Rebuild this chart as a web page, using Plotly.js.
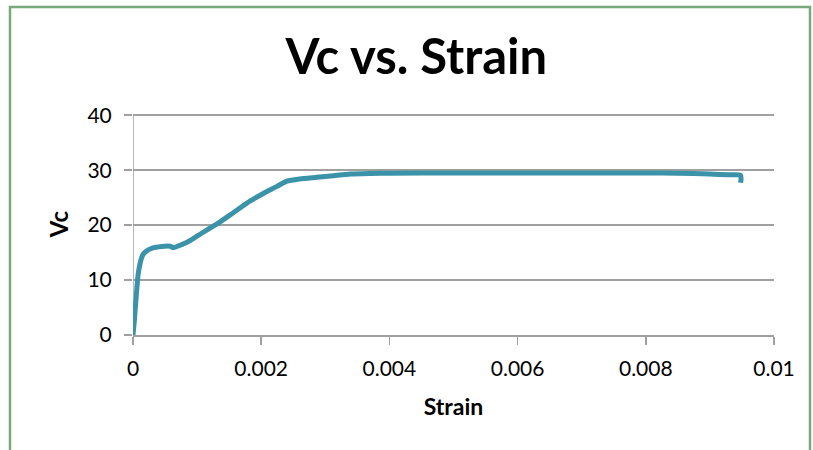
<!DOCTYPE html>
<html>
<head>
<meta charset="utf-8">
<script src="https://cdn.plot.ly/plotly-3.0.1.min.js"></script>
<style>html,body{margin:0;padding:0;background:#fff;}#chart{width:813px;height:450px;}</style>
</head>
<body>
<div id="chart"></div>
<script>
const strain = [0, 0.00002, 0.00004, 0.00006, 0.00008, 0.00011, 0.00015, 0.0002, 0.0003, 0.00045, 0.00058, 0.00062, 0.00075, 0.00088, 0.001, 0.00115, 0.00136, 0.00157, 0.00183, 0.00204, 0.00224, 0.0024, 0.0026, 0.00287, 0.00313, 0.00339, 0.0037, 0.004, 0.005, 0.006, 0.007, 0.008, 0.0085, 0.009, 0.0093, 0.00948, 0.00948];
const vc = [0, 2.5, 5.5, 8.5, 11, 13, 14.5, 15.2, 15.8, 16.1, 16.15, 15.9, 16.4, 17.1, 18.0, 19.1, 20.6, 22.3, 24.4, 25.8, 27.0, 28.0, 28.4, 28.7, 29.0, 29.3, 29.4, 29.45, 29.5, 29.5, 29.5, 29.5, 29.45, 29.3, 29.15, 29.05, 27.7];
const xTicks = [0, 0.002, 0.004, 0.006, 0.008, 0.01];
const xTickText = ['0', '0.002', '0.004', '0.006', '0.008', '0.01'];
const yTicks = [0, 10, 20, 30, 40];

const FONT = 'Lato, "Open Sans", sans-serif';
const trace = {
  x: strain, y: vc, type: 'scatter', mode: 'lines',
  line: {color: '#3a93a8', width: 5, shape: 'spline', smoothing: 0.6},
  hoverinfo: 'skip'
};
const layout = {
  width: 813, height: 450,
  margin: {l: 133, r: 39, t: 113, b: 115},
  paper_bgcolor: '#ffffff', plot_bgcolor: '#ffffff',
  showlegend: false,
  font: {family: FONT, color: '#000'},
  title: {text: '<b>Vc vs. Strain</b>', font: {size: 49, family: FONT, color: '#000'},
          xref: 'paper', x: 0.442, xanchor: 'center', yref: 'container', y: 1 - 57/450, yanchor: 'middle'},
  xaxis: {
    range: [0, 0.01], tickvals: xTicks, ticktext: xTickText,
    showgrid: false, zeroline: false, showline: true, linecolor: '#a0a0a0', linewidth: 1.5,
    ticks: 'outside', ticklen: 8, tickcolor: '#a0a0a0', tickwidth: 1.5,
    tickfont: {size: 21, family: FONT}, ticklabelstandoff: 6,
    title: {text: '<b>Strain</b>', font: {size: 23, family: FONT}, standoff: 20}
  },
  yaxis: {
    range: [0, 40.4], tickvals: yTicks,
    showgrid: true, gridcolor: '#a0a0a0', gridwidth: 1.5, zeroline: false,
    showline: false,
    ticks: 'outside', ticklen: 8, tickcolor: '#a0a0a0', tickwidth: 1.5,
    tickfont: {size: 21, family: FONT}, ticklabelstandoff: 8,
    title: {text: '<b>Vc</b>', font: {size: 24, family: FONT}, standoff: 12}
  },
  shapes: [{
    type: 'rect', xref: 'paper', yref: 'paper',
    x0: (10 - 133) / 641, x1: (810 - 133) / 641,
    y0: (335 - 470) / 222, y1: (335 - 7) / 222,
    line: {color: '#77a97a', width: 2.5}, fillcolor: 'rgba(0,0,0,0)', layer: 'below'
  }, {
    type: 'line', xref: 'x', yref: 'y', x0: 0, x1: 0, y0: 0, y1: 40,
    line: {color: '#a0a0a0', width: 1.5}, layer: 'below'
  }]
};
Plotly.newPlot('chart', [trace], layout, {staticPlot: true, displayModeBar: false});
</script>
</body>
</html>
